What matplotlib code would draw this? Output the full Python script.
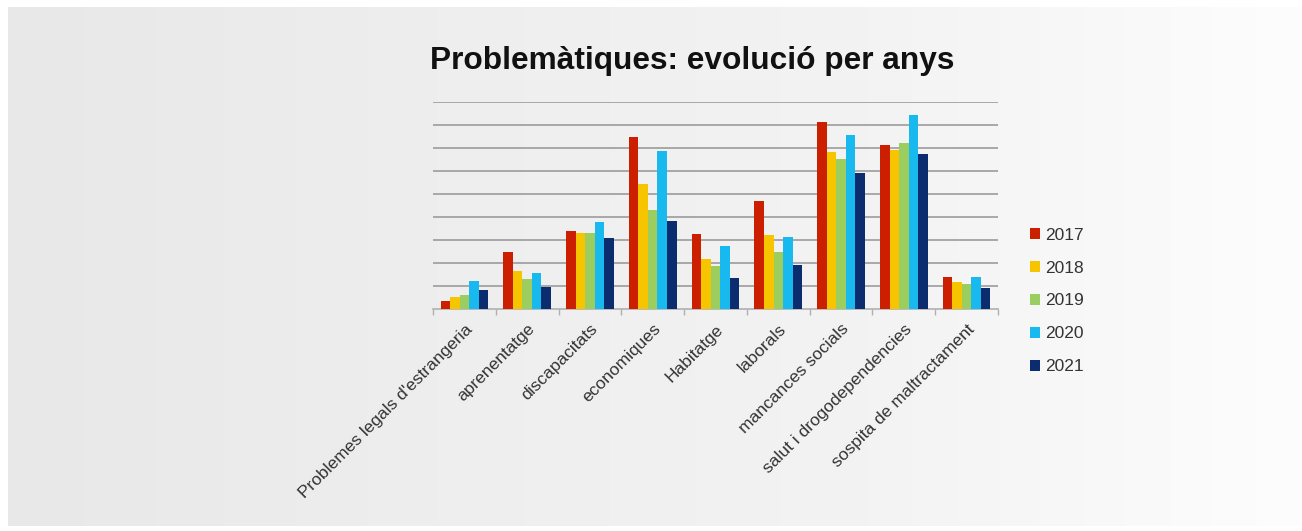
import numpy as np
from matplotlib import pyplot as plt
from matplotlib.colors import LinearSegmentedColormap

categories = ["Problemes legals d'estrangeria", "aprenentatge", "discapacitats",
              "economiques", "Habitatge", "laborals", "mancances socials",
              "salut i drogodependencies", "sospita de maltractament"]
years = ["2017", "2018", "2019", "2020", "2021"]
v2017 = [3.6, 24.6, 33.8, 74.6, 32.5, 47.1, 81.4, 71.0, 13.8]
v2018 = [5.1, 16.4, 32.8, 54.1, 21.6, 32.3, 68.0, 69.1, 11.9]
v2019 = [6.1, 13.2, 32.8, 42.9, 18.8, 24.9, 65.1, 72.2, 10.7]
v2020 = [12.2, 15.7, 37.7, 68.7, 27.5, 31.2, 75.5, 84.2, 13.8]
v2021 = [8.3, 9.4, 30.9, 38.0, 13.5, 19.0, 59.1, 67.5, 9.1]
series = [v2017, v2018, v2019, v2020, v2021]
colors = ["#cc1f00", "#f7c500", "#9bcd5f", "#18b9ef", "#0b2c6e"]

plt.rcParams['font.family'] = ['Liberation Sans', 'DejaVu Sans']

fig = plt.figure(figsize=(13.02, 5.31), dpi=100, facecolor='white')

# background gradient panel
bg = fig.add_axes([8 / 1302, 5 / 531, 1 - 8 / 1302, 1 - 12 / 531])
cmap = LinearSegmentedColormap.from_list('bg', ['#e8e8e8', '#eeeeee', '#f3f3f3', '#fdfdfd'])
bg.imshow(np.linspace(0, 1, 256).reshape(1, -1), aspect='auto', cmap=cmap,
          extent=[0, 1, 0, 1])
bg.axis('off')

ax = fig.add_axes([433 / 1302, 222 / 531, 565 / 1302, 207.3 / 531])
ax.set_facecolor('none')

x = np.arange(len(categories))
w = 0.152
for i, (vals, yr, c) in enumerate(zip(series, years, colors)):
    ax.bar(x + (i - 2) * w, vals, w, color=c, label=yr, zorder=3)

ax.set_xlim(-0.5, len(categories) - 0.5)
ax.set_ylim(0, 90)
ax.set_yticks(np.arange(10, 91, 10))
ax.yaxis.grid(True, color='#a8a8a8', linewidth=1.4, zorder=0)
ax.tick_params(axis='y', length=0, labelleft=False)
for s in ['top', 'right', 'left']:
    ax.spines[s].set_visible(False)
ax.spines['bottom'].set_color('#b0b0b0')
ax.spines['bottom'].set_linewidth(1.2)

ax.set_xticks(x)
ax.set_xticks(np.arange(-0.5, len(categories), 1), minor=True)
ax.tick_params(axis='x', which='major', length=0, pad=9)
ax.tick_params(axis='x', which='minor', length=4, color='#b0b0b0', width=1)
ax.set_xticklabels(categories, rotation=45, ha='right', rotation_mode='anchor',
                   fontsize=12.5, color='#333333')

fig.text(0.532, 0.886, "Problemàtiques: evolució per anys", ha='center', va='center',
         fontsize=22.8, fontweight='bold', color='#111111')

ax.legend(loc='upper left', bbox_to_anchor=(1014 / 1302, 319 / 531),
          bbox_transform=fig.transFigure, frameon=False, fontsize=12.5,
          handlelength=0.6, handleheight=0.6, handletextpad=0.3,
          labelspacing=1.03, labelcolor='#333333')

fig.savefig('out.png', dpi=100, facecolor='white')
